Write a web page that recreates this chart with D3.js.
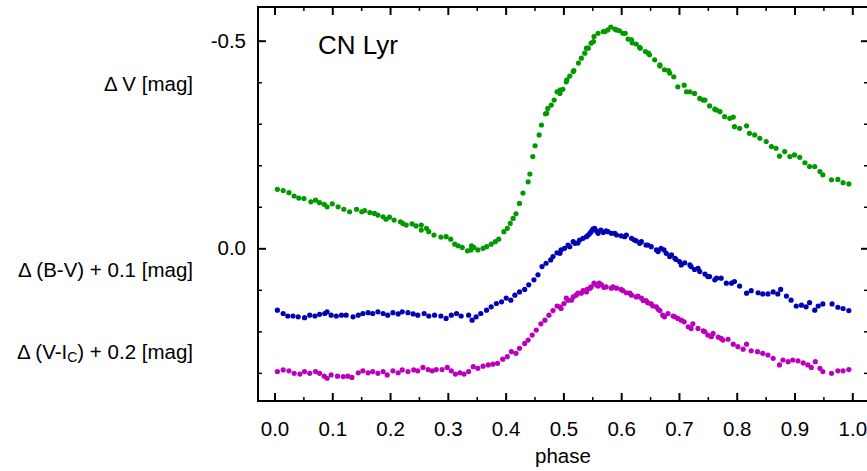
<!doctype html>
<html>
<head>
<meta charset="utf-8">
<script src="https://cdnjs.cloudflare.com/ajax/libs/d3/7.8.5/d3.min.js"></script>
<style>
  body { margin: 0; background: #fff; }
  svg { display: block; font-family: "Liberation Sans", Arial, Helvetica, sans-serif; }
</style>
</head>
<body>
<svg id="chart" width="867" height="471"></svg>
<script>
var vPoints = [
  [0.005,-0.142],[0.015,-0.139],[0.025,-0.134],[0.034,-0.126],[0.042,-0.121],[0.051,-0.120],[0.063,-0.112],
  [0.071,-0.116],[0.078,-0.110],[0.086,-0.106],[0.091,-0.100],[0.100,-0.107],[0.110,-0.100],[0.120,-0.094],
  [0.130,-0.088],[0.142,-0.094],[0.151,-0.088],[0.156,-0.091],[0.165,-0.086],[0.173,-0.084],[0.179,-0.080],
  [0.188,-0.076],[0.193,-0.070],[0.199,-0.075],[0.207,-0.068],[0.218,-0.064],[0.222,-0.060],[0.228,-0.056],
  [0.238,-0.059],[0.245,-0.054],[0.254,-0.056],[0.254,-0.044],[0.263,-0.048],[0.267,-0.040],[0.276,-0.032],
  [0.288,-0.027],[0.297,-0.028],[0.305,-0.022],[0.312,-0.010],[0.318,-0.006],[0.325,-0.002],[0.334,0.006],
  [0.340,0.004],[0.341,-0.006],[0.345,-0.002],[0.352,0.004],[0.361,0.000],[0.367,-0.004],[0.375,-0.010],
  [0.382,-0.016],[0.388,-0.022],[0.397,-0.040],[0.403,-0.048],[0.408,-0.060],[0.413,-0.072],[0.418,-0.083],
  [0.424,-0.108],[0.430,-0.133],[0.439,-0.160],[0.442,-0.179],[0.447,-0.221],[0.451,-0.247],[0.458,-0.273],
  [0.462,-0.297],[0.469,-0.324],[0.471,-0.325],[0.473,-0.337],[0.479,-0.345],[0.484,-0.357],[0.489,-0.377],
  [0.494,-0.373],[0.494,-0.381],[0.499,-0.383],[0.505,-0.401],[0.506,-0.406],[0.511,-0.415],[0.517,-0.426],
  [0.518,-0.428],[0.526,-0.446],[0.531,-0.458],[0.537,-0.470],[0.540,-0.482],[0.543,-0.482],[0.548,-0.494],
  [0.552,-0.498],[0.553,-0.510],[0.560,-0.518],[0.569,-0.522],[0.572,-0.522],[0.577,-0.526],[0.582,-0.533],
  [0.589,-0.528],[0.592,-0.526],[0.597,-0.524],[0.603,-0.518],[0.607,-0.518],[0.612,-0.504],[0.618,-0.502],
  [0.619,-0.495],[0.626,-0.492],[0.632,-0.484],[0.633,-0.482],[0.642,-0.474],[0.647,-0.470],[0.649,-0.466],
  [0.658,-0.454],[0.667,-0.439],[0.667,-0.442],[0.675,-0.430],[0.682,-0.428],[0.684,-0.422],[0.691,-0.413],
  [0.698,-0.389],[0.709,-0.393],[0.713,-0.377],[0.719,-0.377],[0.727,-0.373],[0.736,-0.361],[0.742,-0.357],
  [0.745,-0.357],[0.753,-0.343],[0.762,-0.335],[0.765,-0.333],[0.771,-0.329],[0.779,-0.317],[0.788,-0.313],
  [0.794,-0.316],[0.796,-0.293],[0.805,-0.289],[0.817,-0.295],[0.822,-0.277],[0.831,-0.273],[0.840,-0.265],
  [0.851,-0.257],[0.860,-0.245],[0.868,-0.241],[0.874,-0.222],[0.883,-0.233],[0.892,-0.221],[0.900,-0.225],
  [0.909,-0.219],[0.918,-0.206],[0.926,-0.197],[0.935,-0.197],[0.944,-0.185],[0.949,-0.177],[0.964,-0.165],
  [0.975,-0.166],[0.984,-0.158],[0.994,-0.155]
];

// B-V shifted by +0.1
var bvPoints = [
  [0.005,0.149],[0.015,0.157],[0.023,0.163],[0.032,0.163],[0.041,0.165],[0.052,0.167],[0.061,0.161],
  [0.070,0.163],[0.078,0.159],[0.087,0.157],[0.091,0.153],[0.098,0.161],[0.107,0.163],[0.116,0.161],
  [0.124,0.161],[0.136,0.165],[0.145,0.161],[0.153,0.157],[0.162,0.155],[0.170,0.157],[0.179,0.153],
  [0.188,0.157],[0.196,0.161],[0.205,0.155],[0.214,0.158],[0.221,0.153],[0.231,0.155],[0.240,0.158],
  [0.248,0.161],[0.259,0.157],[0.267,0.163],[0.277,0.161],[0.288,0.163],[0.297,0.169],[0.306,0.161],
  [0.315,0.157],[0.323,0.163],[0.336,0.161],[0.342,0.173],[0.349,0.165],[0.357,0.157],[0.367,0.149],
  [0.375,0.141],[0.384,0.133],[0.393,0.129],[0.401,0.120],[0.409,0.125],[0.416,0.113],[0.424,0.105],
  [0.433,0.099],[0.440,0.088],[0.449,0.076],[0.456,0.064],[0.463,0.044],[0.470,0.036],[0.478,0.028],
  [0.482,0.020],[0.489,0.011],[0.494,0.012],[0.496,0.004],[0.502,0.000],[0.508,-0.008],[0.511,-0.004],
  [0.517,-0.016],[0.520,-0.012],[0.525,-0.013],[0.528,-0.020],[0.534,-0.024],[0.540,-0.028],[0.543,-0.032],
  [0.546,-0.036],[0.548,-0.040],[0.551,-0.046],[0.554,-0.048],[0.557,-0.042],[0.560,-0.036],[0.565,-0.044],
  [0.569,-0.038],[0.574,-0.042],[0.577,-0.040],[0.583,-0.036],[0.589,-0.036],[0.592,-0.032],[0.600,-0.030],
  [0.606,-0.028],[0.609,-0.032],[0.618,-0.024],[0.623,-0.020],[0.626,-0.018],[0.632,-0.012],[0.635,-0.016],
  [0.643,-0.008],[0.646,-0.008],[0.652,-0.004],[0.661,0.004],[0.664,0.008],[0.669,0.000],[0.674,0.004],
  [0.678,0.012],[0.684,0.020],[0.687,0.016],[0.693,0.024],[0.695,0.027],[0.701,0.032],[0.704,0.040],
  [0.710,0.035],[0.719,0.040],[0.721,0.044],[0.727,0.051],[0.733,0.048],[0.736,0.056],[0.745,0.062],
  [0.750,0.068],[0.753,0.068],[0.762,0.076],[0.765,0.072],[0.773,0.072],[0.782,0.084],[0.791,0.084],
  [0.796,0.080],[0.805,0.091],[0.817,0.108],[0.825,0.102],[0.837,0.107],[0.845,0.110],[0.854,0.110],
  [0.863,0.105],[0.871,0.110],[0.876,0.099],[0.886,0.115],[0.894,0.125],[0.903,0.139],[0.912,0.137],
  [0.920,0.141],[0.926,0.131],[0.935,0.149],[0.941,0.139],[0.949,0.134],[0.965,0.134],[0.975,0.142],
  [0.984,0.145],[0.994,0.150]
];

// V-Ic shifted by +0.2
var viPoints = [
  [0.005,0.297],[0.015,0.293],[0.025,0.295],[0.034,0.301],[0.044,0.303],[0.052,0.297],[0.061,0.301],
  [0.071,0.297],[0.078,0.301],[0.086,0.308],[0.091,0.313],[0.098,0.305],[0.109,0.308],[0.119,0.309],
  [0.127,0.308],[0.134,0.311],[0.145,0.300],[0.153,0.295],[0.162,0.300],[0.170,0.297],[0.179,0.301],
  [0.188,0.297],[0.195,0.305],[0.205,0.295],[0.214,0.300],[0.221,0.293],[0.231,0.297],[0.241,0.293],
  [0.248,0.295],[0.257,0.287],[0.266,0.292],[0.273,0.295],[0.280,0.292],[0.290,0.292],[0.299,0.287],
  [0.306,0.295],[0.313,0.303],[0.321,0.300],[0.328,0.303],[0.336,0.297],[0.344,0.285],[0.352,0.289],
  [0.361,0.284],[0.370,0.281],[0.378,0.279],[0.386,0.277],[0.395,0.267],[0.403,0.261],[0.410,0.249],
  [0.418,0.253],[0.424,0.241],[0.433,0.229],[0.439,0.221],[0.446,0.209],[0.453,0.197],[0.461,0.182],
  [0.468,0.173],[0.475,0.161],[0.482,0.150],[0.489,0.139],[0.494,0.141],[0.496,0.145],[0.501,0.133],
  [0.505,0.120],[0.508,0.125],[0.514,0.125],[0.517,0.117],[0.522,0.113],[0.525,0.108],[0.531,0.108],
  [0.534,0.102],[0.540,0.105],[0.541,0.099],[0.546,0.096],[0.548,0.093],[0.553,0.084],[0.557,0.088],
  [0.560,0.091],[0.562,0.084],[0.566,0.088],[0.570,0.094],[0.574,0.093],[0.583,0.096],[0.586,0.093],
  [0.592,0.096],[0.600,0.099],[0.603,0.102],[0.609,0.107],[0.615,0.108],[0.618,0.113],[0.626,0.117],
  [0.629,0.115],[0.635,0.120],[0.638,0.126],[0.643,0.126],[0.646,0.131],[0.652,0.134],[0.655,0.139],
  [0.661,0.141],[0.664,0.147],[0.667,0.150],[0.672,0.161],[0.675,0.165],[0.681,0.157],[0.690,0.163],
  [0.693,0.165],[0.698,0.169],[0.704,0.173],[0.709,0.177],[0.716,0.189],[0.721,0.193],[0.724,0.182],
  [0.733,0.193],[0.742,0.199],[0.745,0.201],[0.750,0.209],[0.756,0.213],[0.759,0.205],[0.768,0.214],
  [0.773,0.217],[0.776,0.221],[0.785,0.219],[0.794,0.231],[0.802,0.237],[0.811,0.243],[0.817,0.231],
  [0.825,0.247],[0.836,0.249],[0.845,0.253],[0.854,0.257],[0.863,0.265],[0.874,0.281],[0.880,0.269],
  [0.889,0.273],[0.897,0.269],[0.906,0.271],[0.915,0.276],[0.923,0.281],[0.929,0.287],[0.936,0.273],
  [0.944,0.289],[0.949,0.297],[0.964,0.301],[0.975,0.295],[0.984,0.295],[0.994,0.292]
];

var xMajor = d3.range(0, 11).map(i => i / 10);
var xMinor = d3.range(0, 10).map(i => i / 10 + 0.05);
var yMajor = [-0.5, 0.0];
var yMinor = [-0.4, -0.3, -0.2, -0.1, 0.1, 0.2, 0.3];

var svg = d3.select("#chart");
var frameL = 258, frameR = 868, frameT = 7, frameB = 401;

var x = d3.scaleLinear().domain([0, 1]).range([274.5, 852.3]);
var y = d3.scaleLinear().domain([-0.5, 0]).range([40.7, 248.3]);

// plain hyphen for negatives, like the original
var fmt = d => d3.format(".1f")(d).replace("\u2212", "-");

function tickAxis(axis, vals, size, lab) {
  return axis.tickValues(vals).tickSize(-size).tickFormat(lab ? fmt : "");
}

function addAxis(gen, tx, ty, major) {
  var g = svg.append("g")
    .attr("transform", `translate(${tx},${ty})`)
    .call(gen);
  g.select(".domain").remove();
  g.selectAll("line").attr("stroke", "#000").attr("stroke-width", major ? 2 : 1.5);
  g.selectAll("text").attr("fill", "#000").style("font-size", "20.5px");
  return g;
}

// bottom / top
addAxis(tickAxis(d3.axisBottom(x), xMajor, 8, true).tickPadding(20), 0, frameB, true);
addAxis(tickAxis(d3.axisBottom(x), xMinor, 4, false), 0, frameB, false);
addAxis(tickAxis(d3.axisTop(x), xMajor, 8, false), 0, frameT, true);
addAxis(tickAxis(d3.axisTop(x), xMinor, 4, false), 0, frameT, false);
// left / right
addAxis(tickAxis(d3.axisLeft(y), yMajor, 8, true).tickPadding(12), frameL, 0, true);
addAxis(tickAxis(d3.axisLeft(y), yMinor, 4, false), frameL, 0, false);
addAxis(tickAxis(d3.axisRight(y), yMajor, 7, false), frameR, 0, true);
addAxis(tickAxis(d3.axisRight(y), yMinor, 4, false), frameR, 0, false);

svg.append("rect")
  .attr("x", frameL).attr("y", frameT)
  .attr("width", frameR - frameL).attr("height", frameB - frameT)
  .attr("fill", "none").attr("stroke", "#000").attr("stroke-width", 2);

var series = [
  { pts: vPoints, color: "#009a00" },
  { pts: bvPoints, color: "#0000b4" },
  { pts: viPoints, color: "#bb00bb" }
];

series.forEach(s => {
  svg.append("g")
    .selectAll("circle")
    .data(s.pts)
    .enter()
    .append("circle")
    .attr("cx", d => x(d[0]))
    .attr("cy", d => y(d[1]))
    .attr("r", 2.6)
    .attr("fill", s.color);
});

svg.append("text")
  .attr("x", 318).attr("y", 54)
  .style("font-size", "26px")
  .text("CN Lyr");

svg.append("text")
  .attr("x", 563).attr("y", 463)
  .attr("text-anchor", "middle")
  .style("font-size", "20.5px")
  .text("phase");

var labels = svg.append("g")
  .attr("text-anchor", "end")
  .style("font-size", "20.5px");

labels.append("text").attr("x", 193).attr("y", 91).text("\u0394 V [mag]");
labels.append("text").attr("x", 193).attr("y", 277).text("\u0394 (B-V) + 0.1 [mag]");

var vi = labels.append("text").attr("x", 193).attr("y", 359);
vi.append("tspan").text("\u0394 (V-I");
vi.append("tspan").attr("baseline-shift", "-22%").style("font-size", "14px").text("C");
vi.append("tspan").text(") + 0.2 [mag]");
</script>
</body>
</html>
